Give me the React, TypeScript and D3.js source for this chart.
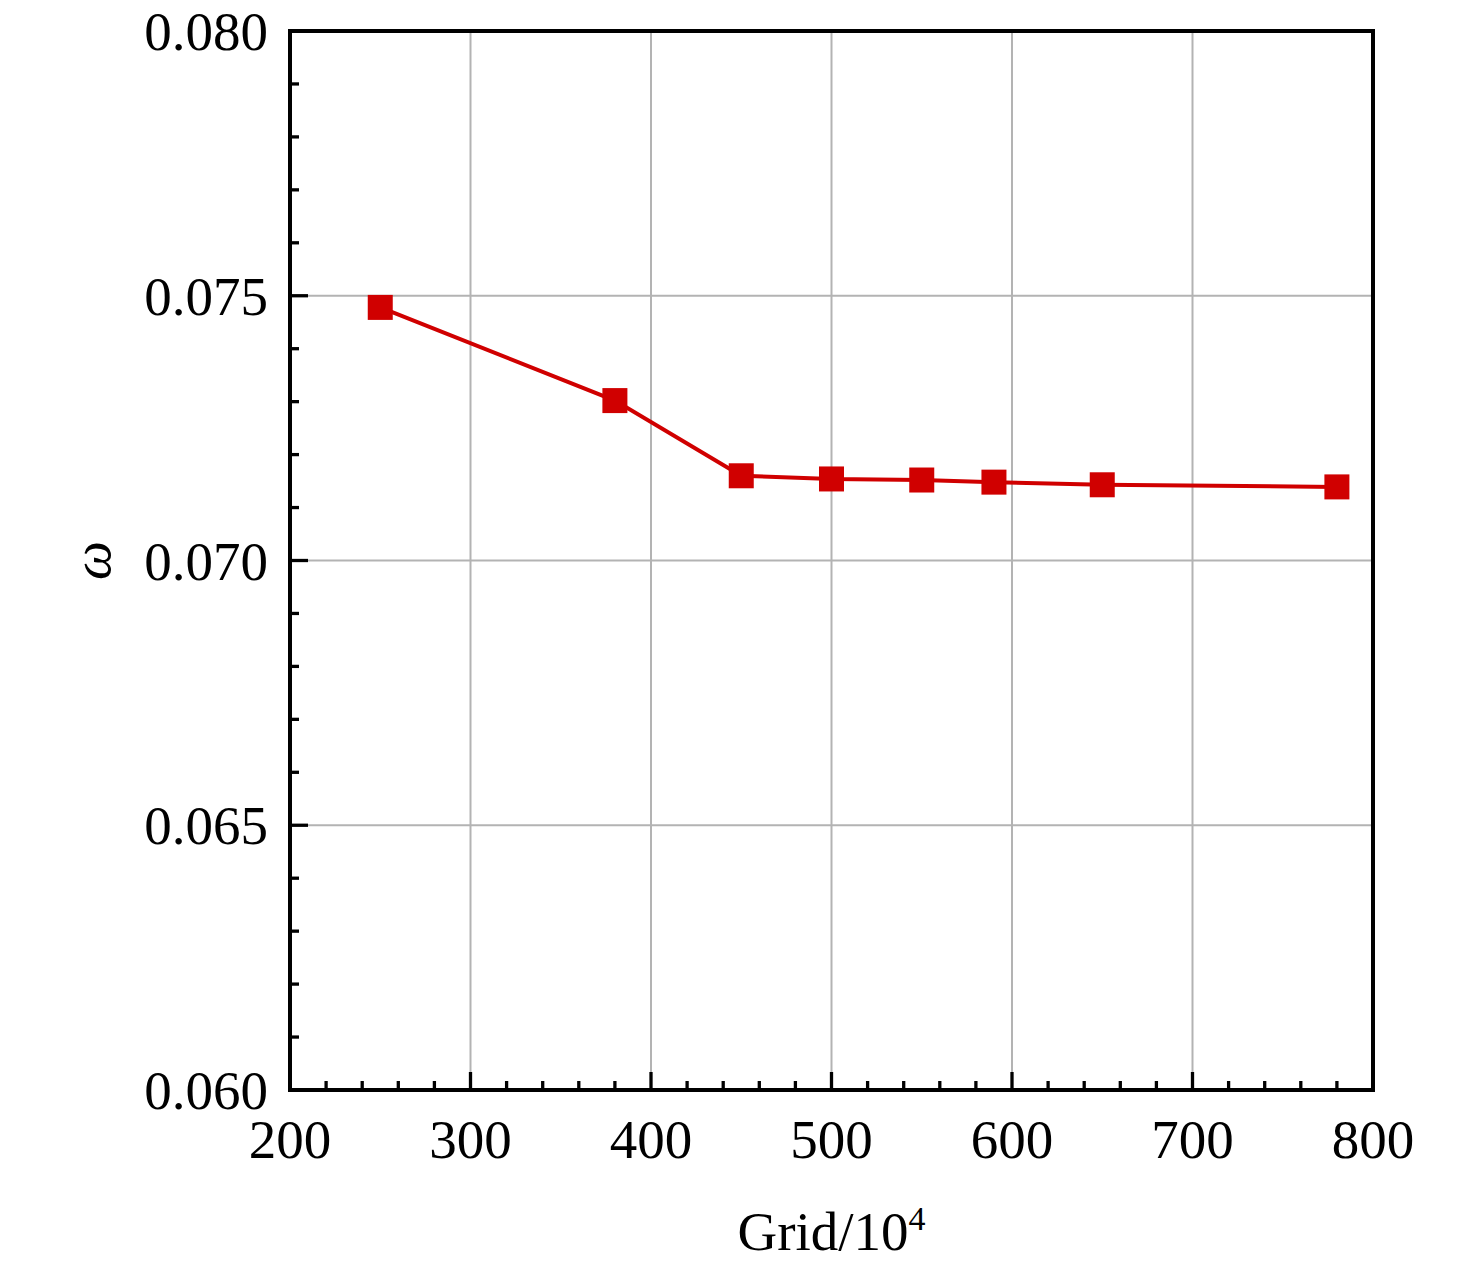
import { useMemo } from 'react'
import { scaleLinear, line, range } from 'd3'

// grid size (×10^4) vs ω
const GRID = [250, 380, 450, 500, 550, 590, 650, 780]
const OMEGA = [0.07478, 0.07302, 0.0716, 0.07154, 0.07152, 0.07148, 0.07143, 0.07139]
const X_TICKS = [200, 300, 400, 500, 600, 700, 800]
const Y_TICKS = [0.06, 0.065, 0.07, 0.075, 0.08]

const W = 1476
const H = 1268
const L = 290
const R = 1373
const T = 31
const B = 1090
const FONT = '"Liberation Serif", "Times New Roman", serif'
const RED = '#d00000'

export default function App() {
  const { x, y } = useMemo(
    () => ({
      x: scaleLinear().domain([200, 800]).range([L, R]),
      y: scaleLinear().domain([0.06, 0.08]).range([B, T]),
    }),
    [],
  )

  const path = line<number>()
    .x((_, i) => x(GRID[i]))
    .y((d) => y(d))(OMEGA)

  const xMinor = range(200, 801, 20).filter((v) => v % 100 !== 0)
  const yMinor = range(60, 81, 1).map((v) => v / 1000).filter((_, i) => i % 5 !== 0)

  return (
    <svg
      width={W}
      height={H}
      style={{ display: 'block', background: '#fff', position: 'absolute', left: 0, top: 0 }}
    >
      {/* grid */}
      {X_TICKS.slice(1, -1).map((t) => (
        <line key={'gx' + t} x1={x(t)} x2={x(t)} y1={T} y2={B} stroke="#b3b3b3" strokeWidth={2} />
      ))}
      {Y_TICKS.slice(1, -1).map((t) => (
        <line key={'gy' + t} x1={L} x2={R} y1={y(t)} y2={y(t)} stroke="#b3b3b3" strokeWidth={2} />
      ))}

      {/* ticks */}
      {X_TICKS.map((t) => (
        <line key={'tx' + t} x1={x(t)} x2={x(t)} y1={B} y2={B - 18} stroke="#000" strokeWidth={3.3} />
      ))}
      {xMinor.map((t) => (
        <line key={'mx' + t} x1={x(t)} x2={x(t)} y1={B} y2={B - 9} stroke="#000" strokeWidth={3.3} />
      ))}
      {Y_TICKS.map((t) => (
        <line key={'ty' + t} x1={L} x2={L + 18} y1={y(t)} y2={y(t)} stroke="#000" strokeWidth={3.3} />
      ))}
      {yMinor.map((t) => (
        <line key={'my' + t} x1={L} x2={L + 9} y1={y(t)} y2={y(t)} stroke="#000" strokeWidth={3.3} />
      ))}

      <rect x={L} y={T} width={R - L} height={B - T} fill="none" stroke="#000" strokeWidth={4} />

      {/* series */}
      <path d={path ?? ''} fill="none" stroke={RED} strokeWidth={4} />
      {GRID.map((g, i) => (
        <rect key={g} x={x(g) - 12.5} y={y(OMEGA[i]) - 12.5} width={25} height={25} fill={RED} />
      ))}

      {/* tick labels */}
      {X_TICKS.map((t) => (
        <text key={'lx' + t} x={x(t)} y={B + 68} textAnchor="middle" fontFamily={FONT} fontSize={55}>
          {t}
        </text>
      ))}
      {Y_TICKS.map((t) => (
        <text key={'ly' + t} x={L - 22} y={y(t) + 19} textAnchor="end" fontFamily={FONT} fontSize={55}>
          {t.toFixed(3)}
        </text>
      ))}

      {/* axis titles */}
      <text x={(L + R) / 2} y={1250} textAnchor="middle" fontFamily={FONT} fontSize={55}>
        Grid/10<tspan dy={-20} fontSize={34}>4</tspan>
      </text>
      <text
        x={0}
        y={0}
        transform={`translate(110 ${y(0.07)}) rotate(-90)`}
        textAnchor="middle"
        fontFamily={FONT}
        fontStyle="italic"
        fontSize={55}
      >
        ω
      </text>
    </svg>
  )
}
